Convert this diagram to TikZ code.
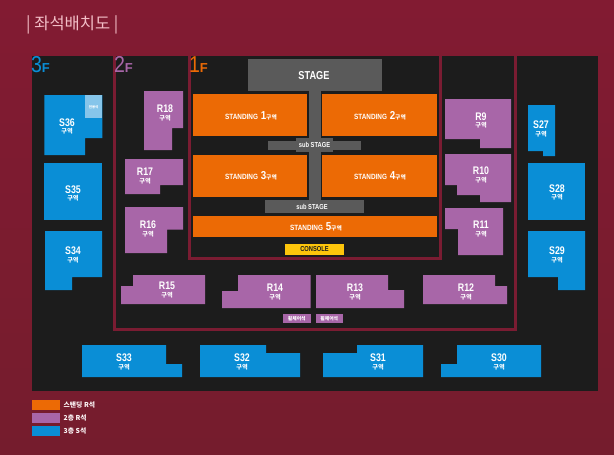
\documentclass[tikz,border=0pt]{standalone}
\usepackage{fontspec}
\setmainfont{Liberation Sans}
\newfontfamily\krfont{Noto Sans CJK KR}
\definecolor{bgtop}{HTML}{821B32}
\definecolor{bgbot}{HTML}{751C2D}
\definecolor{panel}{HTML}{1C1C1C}
\definecolor{frameline}{HTML}{7A1C32}
\definecolor{graystage}{HTML}{5A5A5A}
\definecolor{seatorange}{HTML}{EC6A05}
\definecolor{seatpurple}{HTML}{A866A8}
\definecolor{seatblue}{HTML}{0A8ED6}
\definecolor{seatlight}{HTML}{86C5EA}
\definecolor{seatyellow}{HTML}{FDC50B}
\definecolor{titlepink}{HTML}{F2BDC6}
\newcommand{\latn}[2]{\scalebox{.8}[1]{\fontsize{#1}{#1}\selectfont\bfseries #2}}
\newcommand{\kr}[2]{{\krfont\fontsize{#1}{#1}\selectfont #2}}
\newcommand{\zone}[5]{%
  \node[txt] (#1-a) at (#2,#3) {\latn{11}{#1}};
  \node[txt] (#1-b) at (#2,#4) {\kr{6.2}{\bfseries #5}};}
\newcommand{\standing}[4]{%
  \node[txt] (st#1) at (#2,#3) {\scalebox{.84}[1]{\fontsize{7.6}{8}\selectfont\bfseries STANDING} \fontsize{11.5}{8}\selectfont\scalebox{.85}[1]{\bfseries #1}\kr{5.8}{\bfseries #4}};}
\newcommand{\floorlab}[4]{%
  \node[floorl,text=#4] (fl#1) at (#2,#3) {\fontsize{23}{23}\selectfont\scalebox{.85}[1]{#1}\fontsize{13}{13}\selectfont\bfseries F};}
\tikzset{
  x=1pt,y=-1pt,
  txt/.style={inner sep=0pt,outer sep=0pt,text=white,anchor=center},
  floorl/.style={inner sep=0pt,outer sep=0pt,anchor=base west},
  frm/.style={draw=frameline,line width=2.6pt,line join=miter},
  blue/.style={fill=seatblue},
  purple/.style={fill=seatpurple},
  orange/.style={fill=seatorange},
  stagef/.style={fill=graystage},
  legtxt/.style={inner sep=0pt,anchor=west,text=white!90!titlepink},
}
\begin{document}
\begin{tikzpicture}
\useasboundingbox (0,0) rectangle (614,455);
\shade[top color=bgtop,bottom color=bgbot] (0,0) rectangle (614,455);
\fill[panel] (32,56) rectangle (598,391);
% title
\node[anchor=west,inner sep=0pt,text=titlepink] (title) at (26,25) {\kr{16.5}{| 좌석배치도 |}};
% frames
\draw[frm] (114.5,56) -- (114.5,329.3) -- (515.7,329.3) -- (515.7,56);
\draw[frm] (189.5,56) -- (189.5,258.7) -- (440.4,258.7) -- (440.4,56);
% floor labels
\floorlab{3}{31}{72.5}{seatblue}
\floorlab{2}{114}{72.5}{seatpurple}
\floorlab{1}{189}{72.5}{seatorange}
% stage
\fill[stagef] (248,59) rectangle (382,91);
\fill[stagef] (309,91) rectangle (321,200);
\fill[stagef] (268,141) rectangle (361,150);
\fill[stagef] (296,138) rectangle (333,152);
\fill[stagef] (265,200) rectangle (364,213);
\node[txt] (stage) at (314,76) {\latn{11.5}{STAGE}};
\node[txt] (sub1) at (314.5,145) {\latn{7.2}{sub STAGE}};
\node[txt] (sub2) at (312,207) {\latn{7.2}{sub STAGE}};
% standing
\fill[orange] (193,93.5) rectangle (307,136);
\fill[orange] (322,93.5) rectangle (437,136);
\fill[orange] (193,154.5) rectangle (307,197);
\fill[orange] (322,154.5) rectangle (437,197);
\fill[orange] (193,216) rectangle (437,237);
\standing{1}{251}{116}{구역}
\standing{2}{380}{116}{구역}
\standing{3}{251}{176}{구역}
\standing{4}{380}{176}{구역}
\standing{5}{316}{227}{구역}
\fill[seatyellow] (285,244) rectangle (344,255);
\node[txt,text=panel] (console) at (314.5,249.5) {\latn{7.2}{CONSOLE}};
% blue
\fill[blue] (44.3,95) -- (102.3,95) -- (102.3,138) -- (85,138) -- (85,155) -- (44.3,155) -- cycle;
\fill[seatlight] (85,95) rectangle (102.3,118);
\node[txt] (s36box) at (93.6,107) {\kr{3.4}{\bfseries 전용석}};
\fill[blue] (44.3,163) rectangle (102.3,220);
\fill[blue] (45,231) -- (102,231) -- (102,277) -- (72,277) -- (72,290) -- (45,290) -- cycle;
\fill[blue] (82,345) -- (166,345) -- (166,364) -- (182,364) -- (182,377) -- (82,377) -- cycle;
\fill[blue] (200,345) -- (266,345) -- (266,353) -- (300,353) -- (300,377) -- (200,377) -- cycle;
\fill[blue] (323,353) -- (357,353) -- (357,345) -- (423,345) -- (423,377) -- (323,377) -- cycle;
\fill[blue] (441,364) -- (457,364) -- (457,345) -- (541,345) -- (541,377) -- (441,377) -- cycle;
\fill[blue] (528,231) -- (585,231) -- (585,290) -- (558,290) -- (558,277) -- (528,277) -- cycle;
\fill[blue] (528,163) rectangle (585,220);
\fill[blue] (528,105) -- (555,105) -- (555,156) -- (543,156) -- (543,151) -- (528,151) -- cycle;
% purple
\fill[purple] (144,91) -- (183,91) -- (183,128) -- (172,128) -- (172,150) -- (144,150) -- cycle;
\fill[purple] (125,159) -- (183,159) -- (183,185) -- (160,185) -- (160,194) -- (125,194) -- cycle;
\fill[purple] (125,207) -- (183,207) -- (183,229.5) -- (167,229.5) -- (167,253) -- (125,253) -- cycle;
\fill[purple] (121,286) -- (133,286) -- (133,275) -- (205,275) -- (205,304) -- (121,304) -- cycle;
\fill[purple] (222,291) -- (238,291) -- (238,275) -- (310.5,275) -- (310.5,308) -- (222,308) -- cycle;
\fill[purple] (316,275) -- (388,275) -- (388,290) -- (404,290) -- (404,308) -- (316,308) -- cycle;
\fill[purple] (423,275) -- (495,275) -- (495,286) -- (507,286) -- (507,304) -- (423,304) -- cycle;
\fill[purple] (445,99) -- (511,99) -- (511,148) -- (480,148) -- (480,139) -- (445,139) -- cycle;
\fill[purple] (445,154) -- (511,154) -- (511,202) -- (480,202) -- (480,195) -- (457,195) -- (457,185) -- (445,185) -- cycle;
\fill[purple] (445,208) -- (503,208) -- (503,255) -- (458,255) -- (458,229) -- (445,229) -- cycle;
\fill[purple] (282.5,314) rectangle (311,323);
\fill[purple] (315.5,314) rectangle (343,323);
\node[txt] (wh1) at (296.8,318.5) {\kr{4.8}{\bfseries 휠체어석}};
\node[txt] (wh2) at (329.3,318.5) {\kr{4.8}{\bfseries 휠체어석}};
% zone labels
\zone{S36}{67}{122.5}{131.5}{구역}
\zone{S35}{73}{189.5}{198.5}{구역}
\zone{S34}{73}{251}{260}{구역}
\zone{S33}{124}{358}{367}{구역}
\zone{S32}{242}{358}{367}{구역}
\zone{S31}{378}{358}{367}{구역}
\zone{S30}{499}{358}{367}{구역}
\zone{S29}{557}{251}{260}{구역}
\zone{S28}{557}{188.5}{197.5}{구역}
\zone{S27}{541}{125}{134}{구역}
\zone{R18}{165}{109}{118}{구역}
\zone{R17}{145}{172}{181}{구역}
\zone{R16}{148}{225}{234}{구역}
\zone{R15}{167}{286}{295}{구역}
\zone{R14}{275}{288}{297}{구역}
\zone{R13}{355}{288}{297}{구역}
\zone{R12}{466}{288}{297}{구역}
\zone{R9}{481}{116.5}{125.5}{구역}
\zone{R10}{481}{171}{180}{구역}
\zone{R11}{481}{225}{234}{구역}
% legend
\fill[orange] (32,400) rectangle (60,409.5);
\fill[purple] (32,413) rectangle (60,423);
\fill[blue] (32,426) rectangle (60,436);
\node[legtxt] (leg1) at (63.5,404.7) {\kr{6.8}{\bfseries 스탠딩 R석}};
\node[legtxt] (leg2) at (63.5,418) {\kr{6.8}{\bfseries 2층 R석}};
\node[legtxt] (leg3) at (63.5,431) {\kr{6.8}{\bfseries 3층 S석}};
\end{tikzpicture}
\end{document}
